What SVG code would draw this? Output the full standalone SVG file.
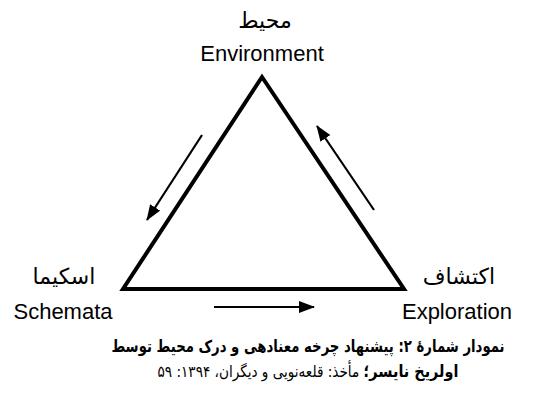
<svg xmlns="http://www.w3.org/2000/svg" width="533" height="394" viewBox="0 0 533 394">
<style>
.en{font-family:"Liberation Sans",Arial,sans-serif;font-size:22px;fill:#000;text-anchor:middle}
.fa{font-family:"DejaVu Sans","Noto Sans",sans-serif;font-size:22px;fill:#000;text-anchor:middle}
.cap{font-family:"DejaVu Sans","Noto Sans",sans-serif;fill:#000;text-anchor:middle}
.tri{fill:none;stroke:#000;stroke-width:4;stroke-linejoin:miter}
.arr{stroke:#000;stroke-width:2.2;fill:none}
</style>
<defs>
<marker id="ah" viewBox="0 0 16 12" refX="15" refY="6" markerWidth="16" markerHeight="12" markerUnits="userSpaceOnUse" orient="auto">
<path d="M0,0 L16,6 L0,12 Z" fill="#000"/>
</marker>
</defs>
<rect width="533" height="394" fill="#fff"/>
<g id="triangle">
<path class="tri" d="M262,77 L404,289 L123,289 Z"/>
</g>
<g id="node-environment">
<text class="fa" x="265" y="28" direction="rtl">محیط</text>
<text class="en" x="262" y="61">Environment</text>
</g>
<g id="node-schemata">
<text class="fa" x="64" y="284" direction="rtl">اسکیما</text>
<text class="en" x="63" y="319">Schemata</text>
</g>
<g id="node-exploration">
<text class="fa" x="459" y="284" direction="rtl">اکتشاف</text>
<text class="en" x="457" y="319">Exploration</text>
</g>
<g id="connectors">
<line class="arr" x1="202" y1="135" x2="147" y2="220" marker-end="url(#ah)"/>
<line class="arr" x1="374" y1="210" x2="317" y2="126" marker-end="url(#ah)"/>
<line class="arr" x1="214" y1="307" x2="314" y2="307" marker-end="url(#ah)"/>
</g>
<g id="caption">
<text class="cap" transform="translate(308,352) scale(0.78,1)" x="0" y="0" font-size="17" font-weight="bold" direction="rtl">نمودار شمارهٔ ۲: پیشنهاد چرخه معنادهی و درک محیط توسط</text>
<text class="cap" transform="translate(308,377) scale(0.85,1)" x="0" y="0" font-size="16" direction="rtl"><tspan font-weight="bold" font-size="17">اولریخ نایسر؛</tspan> مأخذ: قلعه‌نویی و دیگران، ۱۳۹۴: ۵۹</text>
</g>
</svg>
